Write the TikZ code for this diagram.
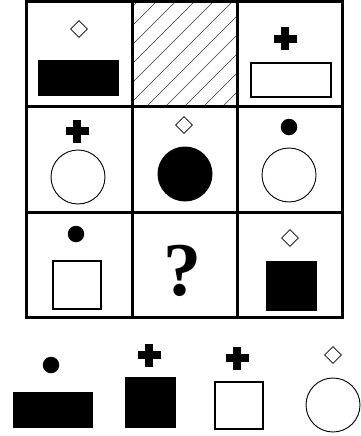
\documentclass[tikz,border=0pt]{standalone}
\usepackage{fontspec}
\setmainfont{Liberation Serif}
\usetikzlibrary{shapes.geometric}
\tikzset{
  gridline/.style={line width=3pt},
  dia/.style={draw, diamond, inner sep=0pt, minimum width=17pt, minimum height=17pt, line width=0.8pt},
  dotnode/.style={circle, fill, inner sep=0pt, minimum size=16.5pt},
  ring/.style={circle, draw, inner sep=0pt, minimum size=54pt, line width=0.9pt},
  disk/.style={circle, fill, inner sep=0pt, minimum size=55pt},
  openbox/.style={draw, line width=1.6pt},
  solidbox/.style={fill},
  hatch/.style={line width=0.7pt, black!80},
  plus/.pic={\fill (-11.5,-3.75) rectangle (11.5,3.75); \fill (-3.75,-11.5) rectangle (3.75,11.5);}
}
\begin{document}
\begin{tikzpicture}[x=1pt,y=-1pt]
\useasboundingbox (0,0) rectangle (361,436);
% hatched cell
\begin{scope}
  \clip (132,2) rectangle (237,106);
  \foreach \c in {139,158,...,340} {
    \draw[hatch] (\c,0) -- ({\c-110},110);
  }
\end{scope}
% grid
\draw[gridline] (26,2) rectangle (342,317);
\draw[gridline] (132,2) -- (132,317);
\draw[gridline] (237,2) -- (237,317);
\draw[gridline] (26,106) -- (342,106);
\draw[gridline] (26,212) -- (342,212);
% row 1
\node[dia] (d11) at (79,29) {};
\fill[solidbox] (38,60) rectangle (119,96);
\pic at (285,39) {plus};
\draw[openbox] (251,63) rectangle (331,97);
% row 2
\pic at (77,131) {plus};
\node[ring] (r21) at (78,177) {};
\node[dia] (d22) at (184,125) {};
\node[disk] (k22) at (185,174) {};
\node[dotnode] (p23) at (289,127) {};
\node[ring] (r23) at (289,175) {};
% row 3
\node[dotnode] (p31) at (76,234) {};
\draw[openbox] (53,261) rectangle (101,309);
\node[font=\fontsize{76}{76}\selectfont\bfseries, inner sep=0pt] (q) at (182,271) {?};
\node[dia] (d33) at (290,238) {};
\fill[solidbox] (266,261) rectangle (317,311);
% options
\node[dotnode] (o1p) at (51,365) {};
\fill[solidbox] (13,392) rectangle (93,428);
\pic at (149,355) {plus};
\fill[solidbox] (125,377) rectangle (176,428);
\pic at (237,358) {plus};
\draw[openbox] (215,382) rectangle (263,429);
\node[dia] (o4d) at (333,355) {};
\node[ring] (o4r) at (333,405) {};
\end{tikzpicture}
\end{document}
